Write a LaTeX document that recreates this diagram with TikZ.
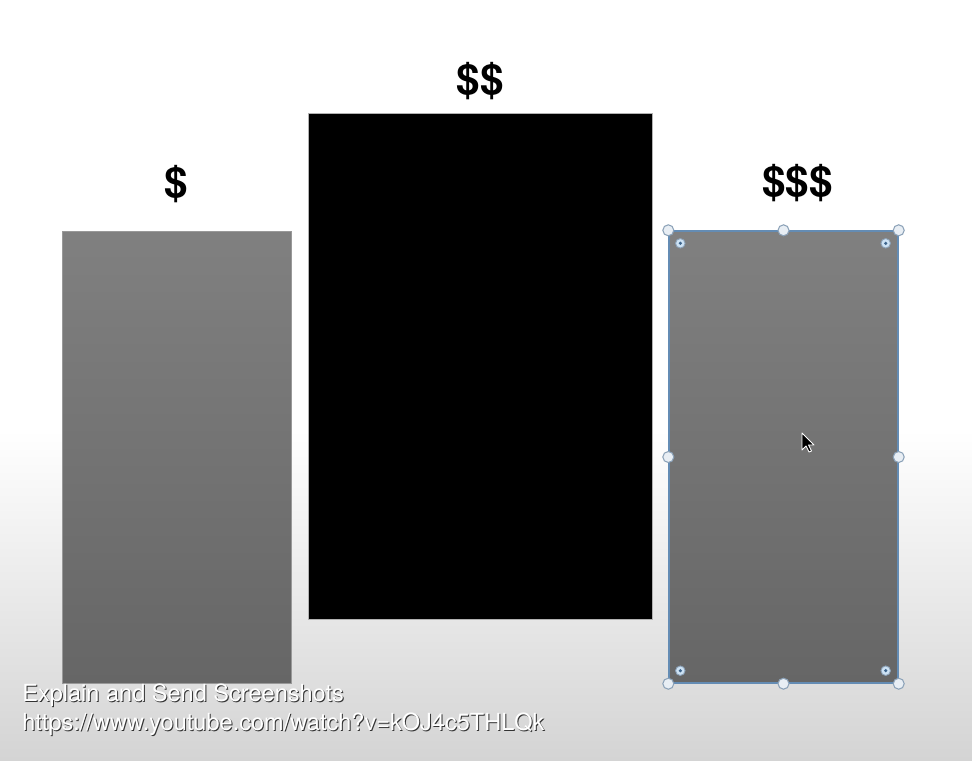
\documentclass[tikz,border=0pt]{standalone}
\usepackage{fontspec}
\setmainfont{TeX Gyre Heros}
\usepackage{tikz}
\usetikzlibrary{positioning, calc}
\definecolor{bggray}{RGB}{212,212,212}
\definecolor{bartop}{RGB}{128,128,128}
\definecolor{barbot}{RGB}{102,102,102}
\definecolor{selblue}{RGB}{100,140,180}
\definecolor{handlefill}{RGB}{232,238,244}
\definecolor{handledge}{RGB}{140,162,184}
\definecolor{innerfill}{RGB}{205,226,244}
\definecolor{innerdot}{RGB}{60,100,140}

\begin{document}
\begin{tikzpicture}[
    bar/.style={rectangle, inner sep=0, minimum width=4.58cm, minimum height=9.04cm,
                top color=bartop, bottom color=barbot, draw=gray!80, line width=0.3pt},
    price/.style={inner sep=0, font=\fontsize{24}{28}\selectfont\bfseries},
    handle/.style={circle, inner sep=0, minimum size=0.22cm, draw=handledge, fill=handlefill, line width=0.6pt},
    inner handle/.style={circle, inner sep=0, minimum size=0.19cm, draw=handledge, fill=innerfill, line width=0.5pt,
                path picture={\fill[innerdot] (path picture bounding box.center) circle (0.035);}},
    caption/.style={anchor=base west, inner sep=0, text=white, font=\fontsize{13.4}{16}\selectfont},
    shadowtext/.style={anchor=base west, inner sep=0, text=black!80, font=\fontsize{13.4}{16}\selectfont}
]
    \useasboundingbox (0,0) rectangle (19.44,15.2);
    \fill[white] (0,0) rectangle (19.44,15.2);
    \shade[top color=white, bottom color=bggray] (0,0) rectangle (19.44,6.6);

    \node[bar] (lo) at (3.53,6.06) {};
    \node[rectangle, inner sep=0, minimum width=6.88cm, minimum height=10.12cm,
          fill=black, draw=gray!60, line width=0.3pt] (mid) at (9.60,7.88) {};
    \node[bar, draw=selblue, line width=0.8pt] (hi) at (15.67,6.06) {};

    \node[price, above=0.56cm of lo] (p1) {\$};
    \node[price, above=0.26cm of mid] (p2) {\$\$};
    \node[price, above=0.56cm of hi, xshift=0.28cm] (p3) {\$\$\$};

    \foreach \a/\n in {north west/nw, north/n, north east/ne, east/e,
                       south east/se, south/s, south west/sw, west/w}
        \node[handle] (h\n) at (hi.\a) {};
    \node[inner handle] (inw) at ($(hi.north west)+(0.24,-0.26)$) {};
    \node[inner handle] (ine) at ($(hi.north east)+(-0.26,-0.26)$) {};
    \node[inner handle] (isw) at ($(hi.south west)+(0.24,0.26)$) {};
    \node[inner handle] (ise) at ($(hi.south east)+(-0.26,0.26)$) {};

    \begin{scope}[shift={(16.04,6.54)}, x=0.02cm, y=-0.02cm]
        \filldraw[fill=black, draw=white, line width=0.5pt, line join=round]
            (0,0) -- (0,17) -- (4,13) -- (7,19) -- (9.5,18) -- (6.5,12) -- (12,12) -- cycle;
    \end{scope}

    \node[shadowtext] (c1s) at (0.46,1.16) {Explain and Send Screenshots};
    \node[caption] (c1) at (0.44,1.18) {Explain and Send Screenshots};
    \node[shadowtext] (c2s) at (0.46,0.58) {https://www.youtube.com/watch?v=kOJ4c5THLQk};
    \node[caption] (c2) at (0.44,0.60) {https://www.youtube.com/watch?v=kOJ4c5THLQk};
\end{tikzpicture}
\end{document}
